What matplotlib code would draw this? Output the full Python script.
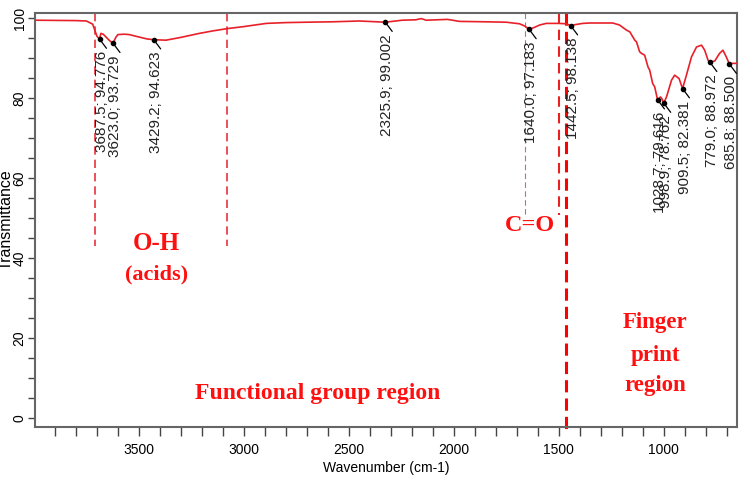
import numpy as np
import matplotlib
matplotlib.use("Agg")
import matplotlib.pyplot as plt

# spectrum (wavenumber, transmittance)
wavenumber = [4000, 3900, 3800, 3750, 3720, 3700, 3687.5, 3681, 3670, 3655, 3640, 3623.0,
              3610, 3600, 3570, 3546, 3500, 3460, 3429.2, 3371, 3300, 3212, 3150, 3078,
              3000, 2893, 2800, 2700, 2576, 2450, 2325.9, 2244, 2180, 2155, 2131, 2080,
              2029, 1972, 1850, 1750, 1686, 1660, 1640.0, 1620, 1590, 1559, 1500, 1463,
              1442.5, 1420, 1385, 1352, 1300, 1242, 1210, 1176, 1161, 1137, 1129, 1114,
              1105, 1090, 1074, 1066, 1052, 1042, 1028.7, 1015, 1008, 998.9, 986, 962,
              947, 926, 909.5, 891, 867, 843, 819, 804, 788, 779.0, 756, 733, 717, 701,
              685.8, 675, 650]
transmittance = [99.5, 99.45, 99.4, 99.3, 98.5, 95.5, 94.776, 96.2, 96.0, 95.2, 94.4, 93.729,
                 95.2, 95.9, 96.0, 95.9, 95.3, 94.8, 94.623, 94.5, 95.2, 96.2, 96.8, 97.4,
                 97.9, 98.7, 98.9, 99.0, 99.1, 99.3, 99.002, 99.5, 99.6, 99.9, 99.5, 99.6,
                 99.7, 99.2, 99.1, 99.0, 98.6, 98.0, 97.183, 97.6, 98.3, 98.7, 98.7, 98.6,
                 98.138, 98.4, 98.7, 98.8, 98.8, 98.8, 98.3, 97.0, 96.6, 94.5, 94.1, 91.6,
                 91.2, 90.75, 87.8, 87.0, 83.7, 82.8, 79.616, 80.3, 79.9, 78.762, 80.3, 84.5,
                 85.75, 84.9, 82.381, 85.75, 90.3, 92.8, 93.25, 92.0, 89.5, 88.972, 89.3, 91.2,
                 92.0, 90.3, 88.5, 88.7, 88.7]

# labelled peaks
peak_x = [3687.5, 3623.0, 3429.2, 2325.9, 1640.0, 1442.5, 1028.7, 998.9, 909.5, 779.0, 685.8]
peak_y = [94.776, 93.729, 94.623, 99.002, 97.183, 98.138, 79.616, 78.762, 82.381, 88.972, 88.500]
peak_labels = ["3687.5; 94.776", "3623.0; 93.729", "3429.2; 94.623", "2325.9; 99.002",
               "1640.0; 97.183", "1442.5; 98.138", "1028.7; 79.616", "998.9; 78.762",
               "909.5; 82.381", "779.0; 88.972", "685.8; 88.500"]

fig = plt.figure(figsize=(7.51, 4.82), dpi=100)
ax = fig.add_axes([35/751, 1-427/482, (737-35)/751, (427-13)/482])

ax.plot(wavenumber, transmittance, color="#e8202a", lw=1.2, zorder=3)
ax.plot(peak_x, peak_y, "o", color="black", ms=3, zorder=4)
for px, py, lab in zip(peak_x, peak_y, peak_labels):
    ax.annotate(lab, (px, py), xytext=(2, -12), textcoords="offset pixels",
                rotation=90, ha="center", va="top", fontsize=11,
                family="Liberation Sans", color="#222222",
                arrowprops=dict(arrowstyle="-", color="black", lw=0.9,
                                shrinkA=0, shrinkB=0, relpos=(1, 1)))

# region markers
ax.plot([3707, 3707], [101.3, 43], ls=(0, (5, 3)), color="#e8323c", lw=1.2)
ax.plot([3080, 3080], [101.3, 43], ls=(0, (5, 3)), color="#e8323c", lw=1.2)
ax.plot([1662, 1662], [101.3, 50.7], ls=(0, (5, 3)), color="#c0707a", lw=0.8)
ax.plot([1500, 1500], [101.3, 50.7], ls=(0, (5, 3)), color="#e82020", lw=1.5)
ax.plot([1463, 1463], [101.3, -3.5], ls=(0, (4, 2)), color="#ff0000", lw=2.2, clip_on=False)

tfont = dict(family="Liberation Serif", fontweight="bold", color="#ff1010",
             ha="center", va="center")
ax.text(3417, 43.75, "O-H", fontsize=18, **tfont)
ax.text(3417, 36, "(acids)", fontsize=16, **tfont)
ax.text(1638, 48.25, "C=O", fontsize=17.5, **tfont)
ax.text(2649, 6.25, "Functional group region", fontsize=17, **tfont)
ax.text(1040, 24, "Finger", fontsize=16.5, **tfont)
ax.text(1040, 15.75, "print", fontsize=16.5, **tfont)
ax.text(1040, 8.25, "region", fontsize=16.5, **tfont)

ax.set_xlim(3995, 650)
ax.set_ylim(-2.25, 101.3)
ax.set_xticks([3500, 3000, 2500, 2000, 1500, 1000])
ax.set_xticks(np.arange(700, 4000, 100), minor=True)
ax.set_yticks([0, 20, 40, 60, 80, 100])
ax.set_yticks(np.arange(0, 101, 5), minor=True)
ax.tick_params(which="both", direction="out", width=1, color="#444444")
ax.tick_params(axis="x", which="both", length=6.5)
ax.tick_params(axis="y", which="both", length=5)
ax.tick_params(axis="x", labelsize=10, pad=5)
ax.tick_params(axis="y", labelsize=10, pad=1, labelrotation=90)
for lab in ax.get_xticklabels() + ax.get_yticklabels():
    lab.set_family("Liberation Sans")
for lab in ax.get_yticklabels():
    lab.set_va("center")

for s in ax.spines.values():
    s.set_color("#666666")
    s.set_linewidth(1.5)

ax.set_xlabel("Wavenumber (cm-1)", fontsize=10, family="Liberation Sans", labelpad=3)
ax.set_ylabel("Transmittance", fontsize=11.5, family="Liberation Sans")
ax.yaxis.set_label_coords(-21/702, 0.5)

fig.savefig("out.png", dpi=100)
